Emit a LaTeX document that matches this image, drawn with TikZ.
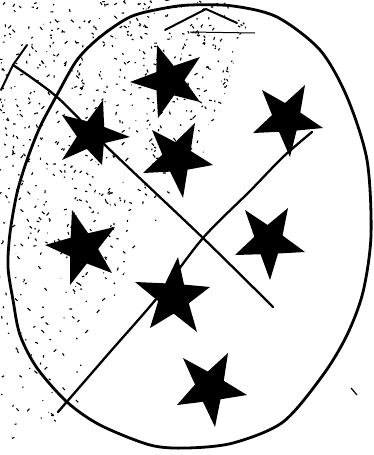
\documentclass[tikz,border=0pt]{standalone}
\usetikzlibrary{calc}
\tikzset{
  oval/.style={line width=2.8pt, draw=black},
  crossline/.style={line width=2.3pt, draw=black, line cap=round},
  scribble/.style={line width=2pt, draw=black, line cap=round},
  speck/.style={line width=1.1pt, draw=black}
}
\newcommand\mystar[5]{%
  \coordinate (o1) at #1; \coordinate (o2) at #2; \coordinate (o3) at #3;
  \coordinate (o4) at #4; \coordinate (o5) at #5;
  \coordinate (sc) at ($0.2*(o1)+0.2*(o2)+0.2*(o3)+0.2*(o4)+0.2*(o5)$);
  \coordinate (m1) at ($(o1)!0.5!(o2)$); \coordinate (m2) at ($(o2)!0.5!(o3)$);
  \coordinate (m3) at ($(o3)!0.5!(o4)$); \coordinate (m4) at ($(o4)!0.5!(o5)$);
  \coordinate (m5) at ($(o5)!0.5!(o1)$);
  \fill[black] (o1) -- ($(sc)!0.5!(m1)$) -- (o2) -- ($(sc)!0.5!(m2)$) -- (o3)
    -- ($(sc)!0.5!(m3)$) -- (o4) -- ($(sc)!0.5!(m4)$) -- (o5) -- ($(sc)!0.5!(m5)$) -- cycle;
}
\begin{document}
\begin{tikzpicture}[x=1pt,y=-1pt]
\useasboundingbox (0,0) rectangle (374,455);
\fill[white] (0,0) rectangle (374,455);
% scan speckle, thinning out towards the bottom
\pgfmathsetseed{7}
\begin{scope}
  \clip (0,0) -- (260,0) -- (240,40) -- (220,110) -- (205,150) -- (165,210)
        -- (130,260) -- (100,330) -- (70,455) -- (0,455) -- cycle;
  \foreach \i in {1,...,1500} {
    \pgfmathsetmacro\px{rnd*265}
    \pgfmathsetmacro\py{rnd*455}
    \pgfmathsetmacro\dx{rand*3}
    \pgfmathsetmacro\dy{rand*3}
    \pgfmathtruncatemacro\keep{(rnd < (1.15 - \py/455 - 0.5*(\px/265)*(\py/455))) ? 1 : 0}
    \ifnum\keep=1 \draw[speck] (\px,\py) -- ++(\dx,\dy); \fi
  }
\end{scope}
% oval outline
\draw[oval] plot[smooth cycle] coordinates {
  (130,17) (100,37) (77,60) (57,95) (40,127) (27,160) (17,193) (10,233)
  (8,267) (13,300) (20,335) (37,368) (67,402) (100,425) (150,445) (187,448)
  (233,443) (283,422) (323,375) (347,335) (363,292) (371,235) (367,160)
  (347,97) (320,50) (277,17) (233,6) (190,5) (160,9)};
% crossing lines
\draw[crossline] plot[smooth] coordinates {(13,65) (57,97) (107,147) (203,238) (273,307)};
\draw[crossline] plot[smooth] coordinates {(58,412) (110,352) (157,298) (203,238) (250,191) (283,157) (312,132)};
% stray strokes
\coordinate (s1) at (27,45); \coordinate (s2) at (13,65); \coordinate (s3) at (1,90);
\draw[scribble] (s1) -- (s2) -- (s3);
\coordinate (t1) at (165,30); \coordinate (t2) at (206,9); \coordinate (t3) at (237,23);
\draw[scribble] (t1) -- (t2) -- (t3);
\coordinate (d1) at (190,32); \coordinate (d2) at (255,33);
\draw[line width=1pt] (d1) -- (d2);
\coordinate (k1) at (351,388); \coordinate (k2) at (357,395);
\draw[line width=1.2pt] (k1) -- (k2);
% stars
\mystar{(157,45)}{(200,57)}{(200,102)}{(158,118)}{(130,82)}
\mystar{(103,100)}{(130,137)}{(102,165)}{(62,160)}{(62,115)}
\mystar{(152,130)}{(195,123)}{(213,165)}{(183,198)}{(143,173)}
\mystar{(262,90)}{(305,85)}{(323,128)}{(290,157)}{(253,133)}
\mystar{(72,210)}{(115,227)}{(112,273)}{(70,285)}{(45,245)}
\mystar{(245,210)}{(288,208)}{(305,252)}{(270,280)}{(235,255)}
\mystar{(178,257)}{(210,287)}{(197,332)}{(150,328)}{(135,282)}
\mystar{(183,358)}{(228,353)}{(247,395)}{(215,427)}{(177,405)}
\end{tikzpicture}
\end{document}
